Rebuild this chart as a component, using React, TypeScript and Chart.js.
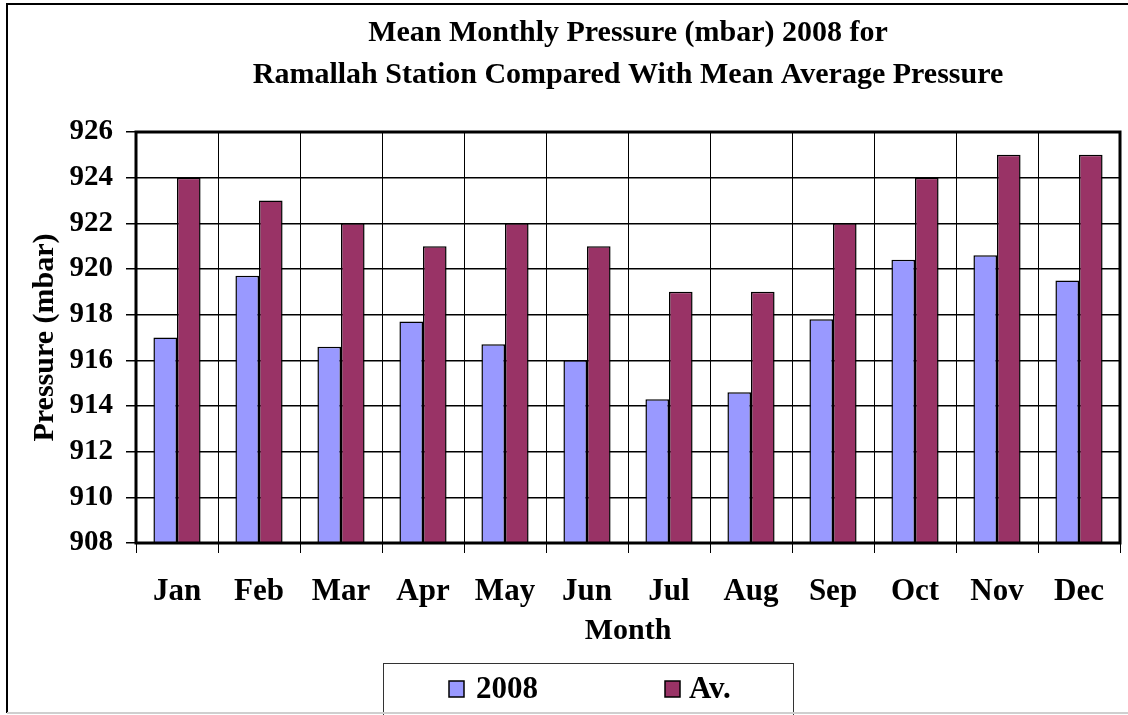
import React, { useEffect, useRef } from "react";
import { Chart, registerables } from "chart.js";

Chart.register(...registerables);

const months = ["Jan", "Feb", "Mar", "Apr", "May", "Jun", "Jul", "Aug", "Sep", "Oct", "Nov", "Dec"];
const series2008 = [917.0, 919.7, 916.6, 917.7, 916.7, 916.0, 914.3, 914.6, 917.8, 920.4, 920.6, 919.5];
const seriesAv = [924, 923, 922, 921, 922, 921, 919, 919, 922, 924, 925, 925];
const seriesNames = ["2008", "Av."];
const titleLines = ["Mean Monthly Pressure (mbar) 2008 for", "Ramallah Station Compared With Mean Average Pressure"];
const yMin = 908;
const yMax = 926;
const yStep = 2;

const FONT = "'Liberation Serif', 'Times New Roman', serif";
const BLUE = "#9999FF";
const RED = "#993366";

const framePlugin = {
  id: "frame",
  afterDraw(chart: any) {
    const ctx = chart.ctx;
    const a = chart.chartArea;
    ctx.save();
    // outer frame (left, top, right off-canvas)
    ctx.strokeStyle = "#000";
    ctx.lineWidth = 2;
    ctx.beginPath();
    ctx.moveTo(7, 713);
    ctx.lineTo(7, 4);
    ctx.lineTo(1140, 4);
    ctx.stroke();
    // plot border
    ctx.lineWidth = 3;
    ctx.strokeRect(a.left, a.top, a.right - a.left, a.bottom - a.top);
    // legend box
    ctx.lineWidth = 1;
    ctx.strokeStyle = "#333";
    ctx.fillStyle = "#fff";
    ctx.fillRect(383, 663, 410, 60);
    ctx.strokeRect(383.5, 663.5, 410, 60);
    const items = [
      { x: 449, tx: 476, color: chart.data.datasets[0].backgroundColor, label: chart.data.datasets[0].label },
      { x: 665, tx: 689, color: chart.data.datasets[1].backgroundColor, label: chart.data.datasets[1].label },
    ];
    ctx.font = `bold 31px ${FONT}`;
    ctx.textBaseline = "middle";
    ctx.textAlign = "left";
    for (const it of items) {
      ctx.fillStyle = it.color;
      ctx.fillRect(it.x, 681, 15, 16);
      ctx.strokeStyle = "#000";
      ctx.lineWidth = 1.5;
      ctx.strokeRect(it.x, 681, 15, 16);
      ctx.fillStyle = "#000";
      ctx.fillText(it.label, it.tx, 690);
    }
    // bottom frame edge, light
    ctx.strokeStyle = "#cfcfcf";
    ctx.lineWidth = 2;
    ctx.beginPath();
    ctx.moveTo(7, 713);
    ctx.lineTo(1128, 713);
    ctx.stroke();
    ctx.restore();
  },
};

export default function App() {
  const ref = useRef<HTMLCanvasElement | null>(null);
  useEffect(() => {
    if (!ref.current) return;
    const chart = new Chart(ref.current, {
      type: "bar",
      data: {
        labels: months,
        datasets: [
          {
            label: seriesNames[0],
            data: series2008,
            backgroundColor: BLUE,
            borderColor: "#000",
            borderWidth: 1.5,
            categoryPercentage: 0.575,
            barPercentage: 1,
          },
          {
            label: seriesNames[1],
            data: seriesAv,
            backgroundColor: RED,
            borderColor: "#000",
            borderWidth: 1.5,
            categoryPercentage: 0.575,
            barPercentage: 1,
          },
        ],
      },
      options: {
        responsive: false,
        animation: false,
        layout: { padding: { left: 0, right: 8, top: 8, bottom: 0 } },
        plugins: {
          legend: { display: false },
          tooltip: { enabled: false },
          title: {
            display: true,
            fullSize: false,
            text: titleLines,
            color: "#000",
            font: { family: FONT, size: 30, weight: "bold", lineHeight: 42 / 30 },
            padding: { top: 4, bottom: 36 },
          },
        },
        scales: {
          x: {
            afterFit(scale: any) {
              scale.height = 172;
            },
            grid: {
              offset: true,
              color: "#000",
              lineWidth: 1,
              tickLength: 10,
              drawOnChartArea: true,
            },
            border: { display: false },
            ticks: {
              color: "#000",
              padding: 20,
              font: { family: FONT, size: 31, weight: "bold" },
            },
            title: {
              display: true,
              text: "Month",
              color: "#000",
              font: { family: FONT, size: 30, weight: "bold" },
              padding: { top: 0, bottom: 66 },
            },
          },
          y: {
            min: yMin,
            max: yMax,
            afterFit(scale: any) {
              scale.width = 136;
            },
            grid: {
              color: "#000",
              lineWidth: 1.5,
              tickLength: 10,
            },
            border: { display: false },
            ticks: {
              stepSize: yStep,
              color: "#000",
              padding: 13,
              font: { family: FONT, size: 29, weight: "bold" },
            },
            title: {
              display: true,
              text: "Pressure (mbar)",
              color: "#000",
              font: { family: FONT, size: 30, weight: "bold" },
              padding: { top: 27, bottom: 0 },
            },
          },
        },
      },
      plugins: [framePlugin],
    });
    return () => chart.destroy();
  }, []);
  return (
    <div style={{ position: "absolute", left: 0, top: 0, width: 1128, height: 715, background: "#fff" }}>
      <canvas ref={ref} width={1128} height={715} style={{ display: "block" }} />
    </div>
  );
}
